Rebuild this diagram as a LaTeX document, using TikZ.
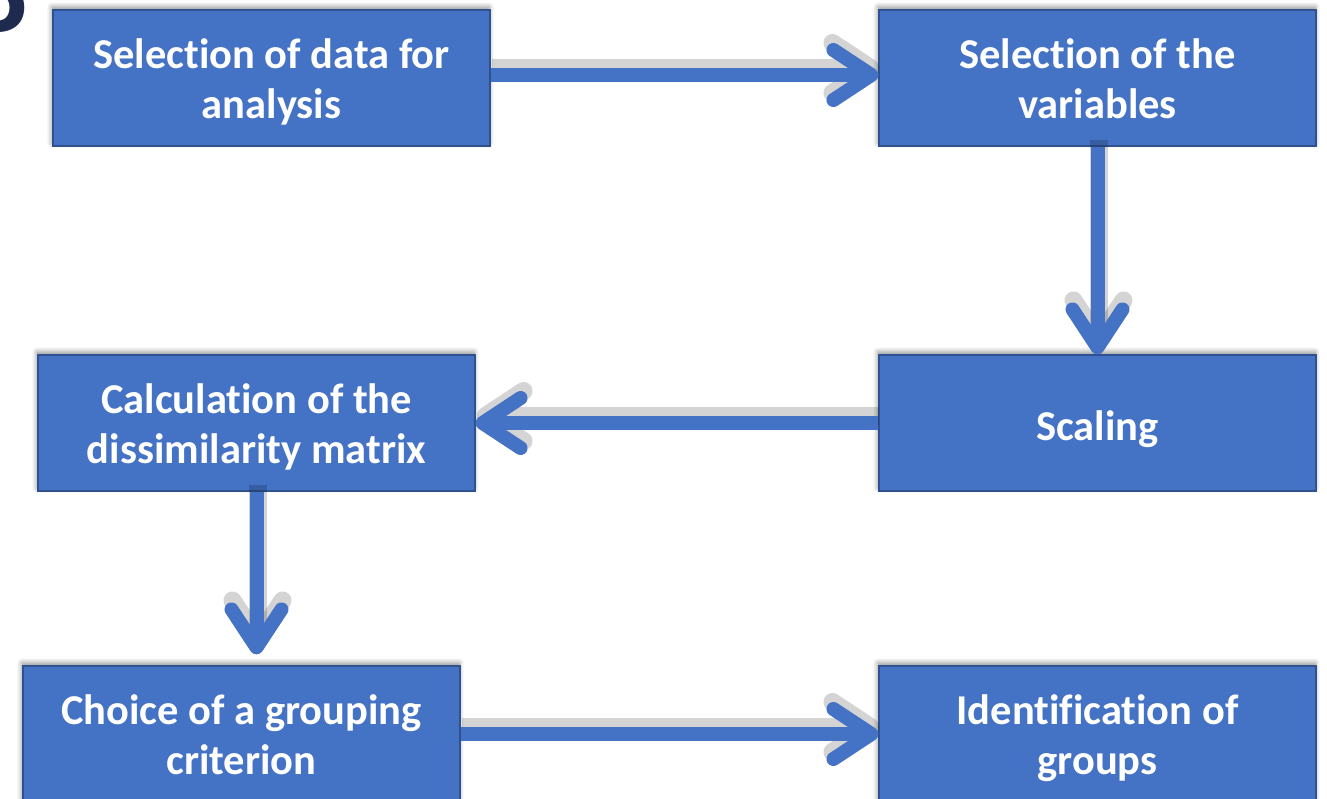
\documentclass[tikz,border=0pt]{standalone}
\usepackage{fontspec}
\setmainfont[Ligatures=NoCommon]{Carlito}
\usetikzlibrary{arrows.meta,shadows.blur}
\definecolor{boxblue}{HTML}{4472C4}
\definecolor{boxedge}{HTML}{2F528F}
\definecolor{navy}{HTML}{1F2B4E}
\tikzset{
  stepbox/.style={draw=boxedge, line width=1.2pt, fill=boxblue, rectangle,
    minimum width=437pt, minimum height=136pt,
    blur shadow={shadow xshift=-1pt, shadow yshift=3pt, shadow opacity=45, shadow blur steps=8, shadow blur radius=5pt}},
  steptext/.style={align=center, text=white, inner sep=0pt,
    font=\fontsize{42.5}{50}\selectfont\bfseries,
    execute at begin node=\strut, execute at end node=\strut},
  flow/.style={draw=boxblue, line width=14pt,
    -{Straight Barb[round, length=38pt, width=50pt]},
    preaction={draw=black, draw opacity=0.17, line width=18pt,
      transform canvas={shift={(1pt,7pt)}},
      -{Straight Barb[round, length=38pt, width=50pt]}}}
}
\begin{document}
\begin{tikzpicture}[x=1pt, y=-1pt]
\useasboundingbox (0,0) rectangle (1327,798);
\begin{scope}
\clip (0,0) rectangle (1327,798);
\node[anchor=base east, text=navy, font=\fontsize{115}{115}\selectfont\bfseries, inner sep=0pt] (corner) at (28,58) {P};

\node[stepbox] (b1) at (271.5,78) {};
\node[stepbox] (b2) at (1097.5,78) {};
\node[stepbox] (b3) at (1097.5,423) {};
\node[stepbox] (b4) at (256.5,423) {};
\node[stepbox] (b5) at (241.5,734) {};
\node[stepbox] (b6) at (1097.5,734) {};

\node[steptext] (t1) at ([yshift=-8.5pt]b1.center) {Selection of data for\\analysis};
\node[steptext] (t2) at ([yshift=-8.5pt]b2.center) {Selection of the\\variables};
\node[steptext] (t3) at ([yshift=-7pt]b3.center) {Scaling};
\node[steptext] (t4) at ([yshift=-8.5pt]b4.center) {Calculation of the\\dissimilarity matrix};
\node[steptext] (t5) at ([yshift=-8.5pt]b5.center) {Choice of a grouping\\criterion};
\node[steptext] (t6) at ([yshift=-8.5pt]b6.center) {Identification of\\groups};

\draw[flow] ([yshift=3pt]b1.east) -- ([yshift=3pt]b2.west);
\draw[flow] (b2.south) -- (b3.north);
\draw[flow] (b3.west) -- (b4.east);
\draw[flow] (b4.south) -- ([yshift=11pt]b4.south |- b5.north);
\draw[flow] (b5.east) -- (b6.west);
\end{scope}
\end{tikzpicture}
\end{document}
